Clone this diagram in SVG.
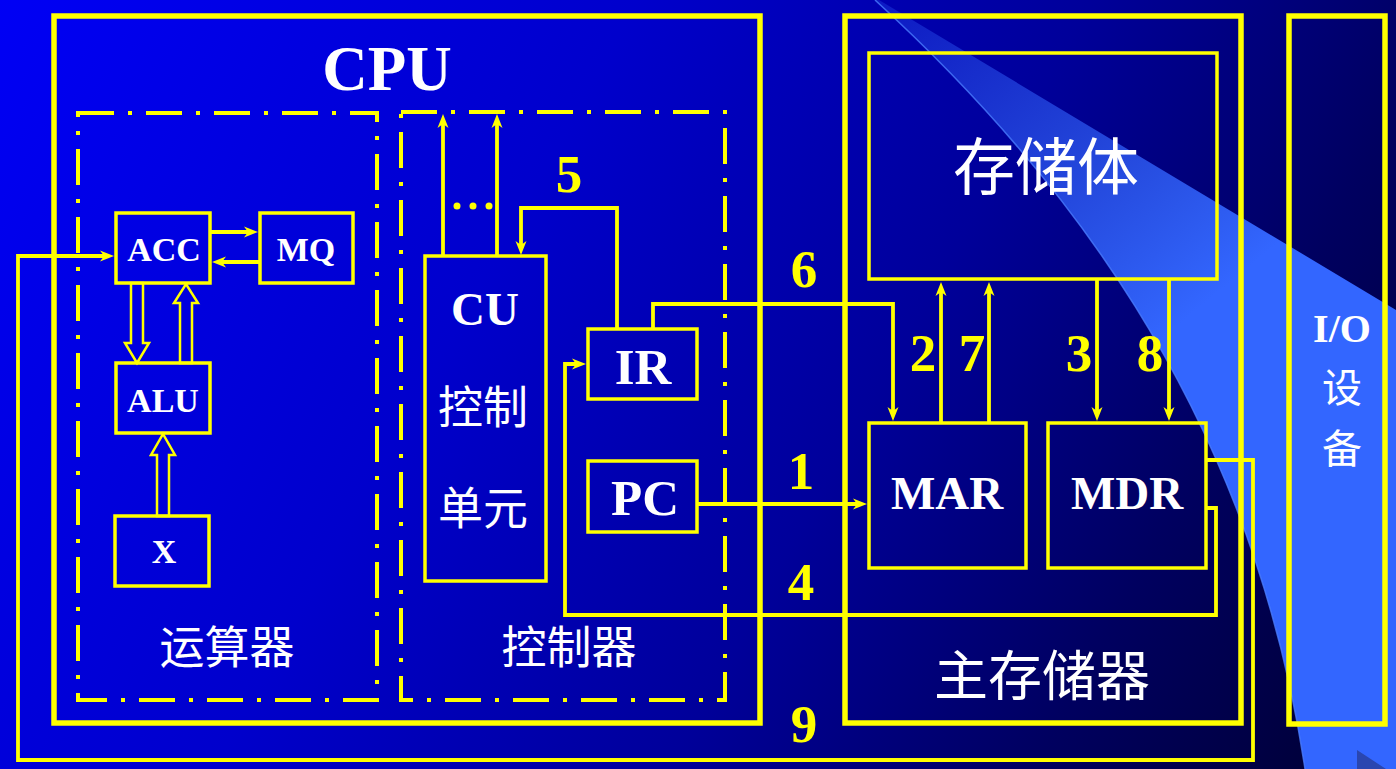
<svg xmlns="http://www.w3.org/2000/svg" width="1396" height="769" viewBox="0 0 1396 769">
<defs>
<linearGradient id="bg" gradientUnits="userSpaceOnUse" x1="0" y1="0" x2="1396" y2="769">
<stop offset="0" stop-color="#0000f5"/>
<stop offset="0.35" stop-color="#0000cc"/>
<stop offset="0.6" stop-color="#00009a"/>
<stop offset="0.8" stop-color="#000060"/>
<stop offset="1" stop-color="#000030"/>
</linearGradient>
<linearGradient id="wedge" gradientUnits="userSpaceOnUse" x1="880" y1="0" x2="1160" y2="340">
<stop offset="0" stop-color="#3366ff" stop-opacity="0.25"/>
<stop offset="1" stop-color="#3366ff" stop-opacity="1"/>
</linearGradient>
<marker id="ah" viewBox="0 0 14 12" refX="7" refY="6" markerWidth="14" markerHeight="12" markerUnits="userSpaceOnUse" orient="auto">
<path d="M0,0.5 L14,6 L0,11.5 L4,6 z" fill="#ffff00"/>
</marker>
<style>
.box{fill:none;stroke:#ffff00;stroke-width:3.5}
.big{fill:none;stroke:#ffff00;stroke-width:5.5}
.dd{fill:none;stroke:#ffff00;stroke-width:4;stroke-dasharray:36 14 4 14}
.arr{fill:none;stroke:#ffff00;stroke-width:3.8;marker-end:url(#ah)}
.hol{fill:none;stroke:#ffff00;stroke-width:2.5;stroke-linejoin:miter}
.en{font-family:"Liberation Serif","Times New Roman",serif;font-weight:bold;fill:#ffffff;text-anchor:middle}
.cn{font-family:"Liberation Serif","Noto Sans CJK SC",sans-serif;fill:#ffffff;text-anchor:middle}
.num{font-family:"Liberation Serif","Times New Roman",serif;font-weight:bold;fill:#ffff00;text-anchor:middle;font-size:53px}
</style>
</defs>
<rect x="0" y="0" width="1396" height="769" fill="url(#bg)"/>
<path d="M875,0 C1050,160 1250,400 1305,769 L1396,769 L1396,310 L879,0 Z" fill="url(#wedge)"/>
<path d="M875,0 C1050,160 1250,400 1305,769" fill="none" stroke="#4a7dff" stroke-width="1.5" stroke-opacity="0.8"/>
<polygon points="1357,750 1386,769 1357,769" fill="#2a46b0"/>

<g id="cpu">
<rect class="big" x="54" y="16" width="706" height="707"/>
<text class="en" x="387" y="90" font-size="63">CPU</text>
</g>
<g id="alu-unit">
<rect class="dd" x="78" y="113" width="299" height="587"/>
<text class="cn" x="227" y="664" font-size="45">运算器</text>
</g>
<g id="ctrl-unit">
<rect class="dd" x="401" y="112" width="324" height="588"/>
<text class="cn" x="569" y="664" font-size="45">控制器</text>
</g>
<g id="acc">
<rect class="box" x="116" y="213" width="94" height="70"/>
<text class="en" x="164" y="261" font-size="34">ACC</text>
</g>
<g id="mq">
<rect class="box" x="260" y="213" width="93" height="70"/>
<text class="en" x="306" y="261" font-size="34">MQ</text>
</g>
<g id="alu">
<rect class="box" x="116" y="363" width="94" height="70"/>
<text class="en" x="163" y="412" font-size="34">ALU</text>
</g>
<g id="x">
<rect class="box" x="115" y="516" width="94" height="70"/>
<text class="en" x="164" y="563" font-size="34">X</text>
</g>
<g id="cu">
<rect class="box" x="425" y="256" width="121" height="325"/>
<text class="en" x="485" y="325" font-size="47">CU</text>
<text class="cn" x="483" y="424" font-size="45">控制</text>
<text class="cn" x="483" y="525" font-size="45">单元</text>
</g>
<g id="ir">
<rect class="box" x="588" y="329" width="109" height="70"/>
<text class="en" x="643" y="384" font-size="51">IR</text>
</g>
<g id="pc">
<rect class="box" x="588" y="461" width="109" height="71"/>
<text class="en" x="645" y="515" font-size="51">PC</text>
</g>
<g id="main-memory">
<rect class="big" x="845" y="16" width="396" height="707"/>
<text class="cn" x="1042" y="696" font-size="54">主存储器</text>
</g>
<g id="storage">
<rect class="box" x="869" y="53" width="348" height="226"/>
<text class="cn" x="1046" y="190" font-size="62">存储体</text>
</g>
<g id="mar">
<rect class="box" x="869" y="423" width="157" height="145"/>
<text class="en" x="947" y="509" font-size="47">MAR</text>
</g>
<g id="mdr">
<rect class="box" x="1048" y="423" width="158" height="145"/>
<text class="en" x="1127" y="509" font-size="47">MDR</text>
</g>
<g id="io">
<rect class="big" x="1289" y="16" width="96" height="708"/>
<text class="en" x="1342" y="342" font-size="40">I/O</text>
<text class="cn" x="1342" y="402" font-size="40">设</text>
<text class="cn" x="1342" y="463" font-size="40">备</text>
</g>

<g id="connectors">
<path class="arr" d="M210,232 H251"/>
<path class="arr" d="M260,262 H219"/>
<polygon class="hol" points="131,283 131,343 125,343 137,363 149,343 143,343 143,283"/>
<polygon class="hol" points="180,363 180,303 174,303 186,284 198,303 192,303 192,363"/>
<polygon class="hol" points="157,516 157,455 151,455 163,434 175,455 169,455 169,516"/>
<path class="arr" d="M443,256 V121"/>
<path class="arr" d="M497,256 V121"/>
<circle cx="457" cy="206" r="3.5" fill="#ffff00"/>
<circle cx="473" cy="206" r="3.5" fill="#ffff00"/>
<circle cx="489" cy="206" r="3.5" fill="#ffff00"/>
<path class="arr" d="M617,329 V208 H521 V248"/>
<path class="arr" d="M653,329 V304 H893 V414"/>
<path class="arr" d="M697,504 H860"/>
<path class="arr" d="M941,423 V289"/>
<path class="arr" d="M989,423 V289"/>
<path class="arr" d="M1097,279 V414"/>
<path class="arr" d="M1169,279 V414"/>
<path class="arr" d="M1206,508 H1216 V615 H565 V364 H579"/>
<path class="arr" d="M1206,460 H1253 V760 H18 V256 H107"/>
<text class="num" x="569" y="192">5</text>
<text class="num" x="804" y="287">6</text>
<text class="num" x="923" y="371">2</text>
<text class="num" x="972" y="371">7</text>
<text class="num" x="1079" y="371">3</text>
<text class="num" x="1150" y="371">8</text>
<text class="num" x="801" y="489">1</text>
<text class="num" x="801" y="600">4</text>
<text class="num" x="804" y="742">9</text>
</g>
</svg>
